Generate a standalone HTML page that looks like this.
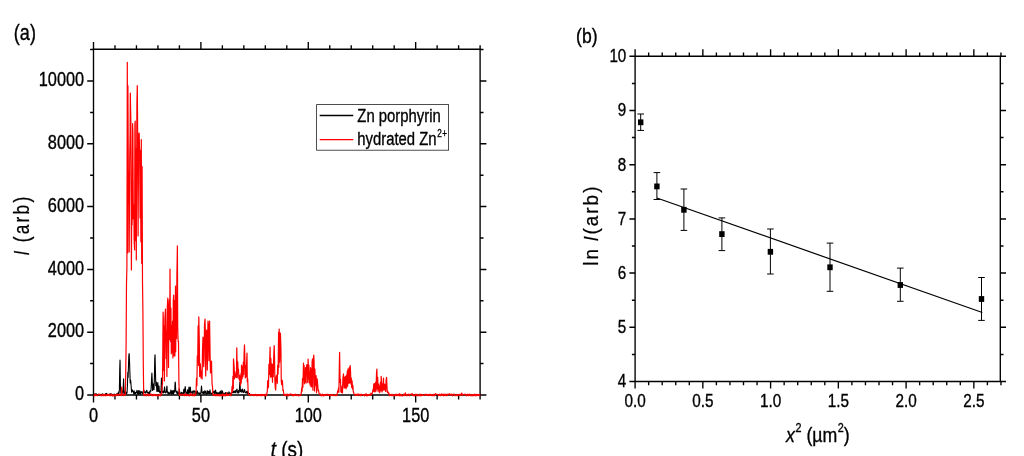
<!DOCTYPE html>
<html lang="en"><head><meta charset="utf-8"><title>Figure</title>
<style>html,body{margin:0;padding:0;background:#fff}svg{display:block}</style></head>
<body>
<svg width="1024" height="456" viewBox="0 0 1024 456" font-family='"Liberation Sans",sans-serif' fill="#000">
<style>text{stroke:#000;stroke-width:0.36px}</style>
<rect width="1024" height="456" fill="#fff"/>
<path d="M92.82,49.2H480.78M92.82,395.0H480.78M93.5,395.00h-6.3M480.1,395.00h6.3M93.5,363.60h-3.4M480.1,363.60h3.4M93.5,332.20h-6.3M480.1,332.20h6.3M93.5,300.80h-3.4M480.1,300.80h3.4M93.5,269.40h-6.3M480.1,269.40h6.3M93.5,238.00h-3.4M480.1,238.00h3.4M93.5,206.60h-6.3M480.1,206.60h6.3M93.5,175.20h-3.4M480.1,175.20h3.4M93.5,143.80h-6.3M480.1,143.80h6.3M93.5,112.40h-3.4M480.1,112.40h3.4M93.5,81.00h-6.3M480.1,81.00h6.3M93.5,49.60h-3.4M480.1,49.60h3.4" fill="none" stroke="#000" stroke-width="1.5"/>
<path d="M93.5,49.2V395.0M480.1,49.2V395.0M93.50,395.0v7.6M93.50,49.2v-7.3M114.98,395.0v4.6M114.98,49.2v-4.0M136.46,395.0v4.6M136.46,49.2v-4.0M157.93,395.0v4.6M157.93,49.2v-4.0M179.41,395.0v4.6M179.41,49.2v-4.0M200.89,395.0v7.6M200.89,49.2v-7.3M222.37,395.0v4.6M222.37,49.2v-4.0M243.84,395.0v4.6M243.84,49.2v-4.0M265.32,395.0v4.6M265.32,49.2v-4.0M286.80,395.0v4.6M286.80,49.2v-4.0M308.28,395.0v7.6M308.28,49.2v-7.3M329.76,395.0v4.6M329.76,49.2v-4.0M351.23,395.0v4.6M351.23,49.2v-4.0M372.71,395.0v4.6M372.71,49.2v-4.0M394.19,395.0v4.6M394.19,49.2v-4.0M415.67,395.0v7.6M415.67,49.2v-7.3M437.14,395.0v4.6M437.14,49.2v-4.0M458.62,395.0v4.6M458.62,49.2v-4.0M480.10,395.0v4.6M480.10,49.2v-4.0" fill="none" stroke="#000" stroke-width="1.36"/>
<polyline fill="none" stroke="#000" stroke-width="1.1" stroke-linejoin="round" points="93.5,394.9 93.8,394.4 94.2,394.1 94.5,394.8 94.9,394.1 95.2,394.5 95.6,393.8 95.9,394.3 96.3,394.0 96.6,393.9 97.0,395.0 97.3,394.7 97.7,394.6 98.0,394.9 98.4,394.7 98.7,394.2 99.1,394.4 99.4,394.7 99.8,394.5 100.1,394.4 100.5,394.6 100.8,394.9 101.2,394.9 101.5,394.4 101.9,395.1 102.2,394.2 102.6,393.9 102.9,394.4 103.3,394.3 103.6,394.7 104.0,394.7 104.3,394.6 104.7,394.6 105.0,394.9 105.4,393.8 105.7,394.9 106.1,394.1 106.4,393.4 106.8,394.0 107.1,394.3 107.5,394.5 107.8,394.8 108.2,394.6 108.5,394.8 108.9,394.4 109.2,394.8 109.6,394.3 109.9,393.9 110.3,394.5 110.6,393.8 111.0,394.6 111.3,394.5 111.7,394.2 112.0,394.6 112.4,394.7 112.7,394.5 113.1,394.3 113.4,394.6 113.8,394.4 114.1,394.5 114.5,394.2 114.8,394.6 115.2,394.5 115.5,394.6 115.9,394.5 116.2,394.5 116.6,394.2 116.9,394.8 117.3,393.2 117.6,393.4 118.0,393.7 118.3,393.7 118.7,391.7 119.0,393.5 119.4,390.0 119.7,370.5 120.0,360.0 120.1,362.0 120.4,383.8 120.8,393.2 121.1,393.1 121.5,390.3 121.6,390.0 121.8,391.5 122.2,392.5 122.5,391.4 122.9,393.6 123.2,387.9 123.6,378.8 123.6,378.8 123.9,387.9 124.3,393.6 124.6,391.6 125.0,392.5 125.3,394.0 125.7,392.4 126.0,393.9 126.4,392.2 126.7,393.5 127.1,392.3 127.4,385.7 127.8,373.0 127.9,372.0 128.1,377.5 128.5,365.7 128.8,355.9 129.1,353.5 129.2,353.9 129.5,360.9 129.9,372.5 130.2,382.9 130.6,380.0 130.6,380.0 130.9,382.9 131.3,388.4 131.6,392.1 132.0,390.7 132.3,389.8 132.7,391.0 133.0,391.9 133.4,391.4 133.7,393.9 134.1,390.7 134.4,392.4 134.8,394.0 135.1,392.6 135.5,393.9 135.8,392.4 136.2,392.9 136.5,392.7 136.9,390.3 137.2,392.1 137.6,393.8 137.9,394.0 138.3,390.5 138.6,394.1 139.0,393.7 139.3,391.7 139.7,390.7 140.0,393.1 140.4,394.3 140.7,392.6 141.1,391.4 141.4,392.9 141.8,392.4 142.1,392.8 142.5,391.9 142.8,393.7 143.2,393.2 143.5,390.2 143.9,390.0 144.2,392.2 144.6,392.4 144.9,392.6 145.3,391.7 145.6,393.1 146.0,392.5 146.3,391.4 146.7,390.2 147.0,391.0 147.4,392.7 147.7,393.0 148.1,393.1 148.4,392.3 148.8,393.8 149.1,392.3 149.5,391.9 149.8,393.4 150.2,390.7 150.5,391.3 150.9,391.2 151.2,387.4 151.6,378.4 151.9,373.0 151.9,373.2 152.3,381.7 152.6,390.5 153.0,389.4 153.3,384.1 153.4,384.0 153.7,387.5 154.0,389.7 154.4,377.8 154.7,360.4 155.0,354.8 155.1,355.7 155.4,370.1 155.8,385.8 156.1,383.2 156.3,382.0 156.5,384.1 156.8,391.2 157.2,391.5 157.5,384.9 157.8,382.5 157.9,383.9 158.2,391.0 158.6,391.4 158.9,386.1 159.0,386.0 159.3,389.9 159.6,392.4 160.0,392.1 160.3,391.9 160.7,393.3 161.0,390.5 161.4,379.2 161.5,378.0 161.7,384.0 162.1,392.3 162.4,391.2 162.8,392.4 163.1,392.9 163.5,391.1 163.8,392.6 164.2,391.1 164.5,387.1 164.6,387.0 164.9,390.4 165.2,392.7 165.6,392.9 165.9,392.7 166.3,391.6 166.6,389.0 166.9,386.0 167.0,386.6 167.3,392.2 167.7,391.7 168.0,393.8 168.4,392.4 168.7,394.1 169.1,393.7 169.4,393.9 169.8,392.3 170.1,393.0 170.5,393.3 170.8,390.1 171.2,393.2 171.5,394.2 171.9,390.8 172.2,393.3 172.6,393.6 172.9,390.6 173.3,390.6 173.6,394.3 174.0,390.7 174.3,392.2 174.7,391.2 175.0,384.1 175.2,382.0 175.4,383.2 175.7,390.4 176.1,392.1 176.4,391.8 176.8,393.2 177.1,391.1 177.5,393.9 177.8,393.4 178.2,392.9 178.5,393.3 178.9,393.9 179.2,388.7 179.6,391.4 179.9,393.9 180.3,393.5 180.6,393.4 181.0,394.2 181.3,392.2 181.7,392.8 182.0,393.7 182.4,393.5 182.7,392.7 183.1,393.5 183.4,393.8 183.8,389.3 184.1,393.5 184.5,392.0 184.8,389.4 185.2,386.6 185.2,386.5 185.5,389.1 185.9,393.0 186.2,392.1 186.6,393.4 186.9,392.2 187.3,393.7 187.6,389.7 188.0,391.9 188.3,393.7 188.7,390.4 189.0,387.0 189.0,387.1 189.4,391.1 189.7,393.3 190.1,388.8 190.3,387.0 190.4,388.1 190.8,392.9 191.1,392.8 191.5,392.7 191.8,392.3 192.2,391.1 192.5,392.2 192.9,394.2 193.2,392.5 193.6,391.0 193.9,390.8 194.3,391.5 194.6,391.0 195.0,394.2 195.3,393.6 195.7,394.0 196.0,391.1 196.4,393.3 196.7,393.6 197.1,393.5 197.4,391.0 197.8,393.3 198.1,392.7 198.5,393.4 198.8,393.4 199.2,393.0 199.5,394.5 199.9,393.0 200.2,393.6 200.6,393.6 200.9,393.2 201.3,388.1 201.5,386.0 201.6,387.2 202.0,392.1 202.3,392.9 202.7,393.0 203.0,393.4 203.4,391.6 203.7,394.0 204.1,393.9 204.4,392.7 204.8,390.7 205.1,392.8 205.5,391.4 205.8,393.6 206.2,394.1 206.5,394.4 206.9,392.7 207.2,390.6 207.6,393.3 207.9,393.6 208.3,391.3 208.6,393.2 209.0,391.5 209.3,393.7 209.7,393.8 210.0,389.7 210.4,393.2 210.7,393.2 211.1,393.6 211.4,393.8 211.8,393.2 212.1,393.0 212.5,393.8 212.8,392.2 213.2,392.4 213.5,392.5 213.9,391.1 214.2,393.2 214.6,391.2 214.9,394.0 215.3,391.8 215.6,390.0 216.0,393.2 216.3,393.1 216.7,393.7 217.0,392.3 217.4,393.5 217.7,393.9 218.1,393.8 218.4,392.7 218.8,393.3 219.1,394.1 219.5,392.7 219.8,391.9 220.2,393.3 220.5,391.1 220.9,393.4 221.2,394.0 221.6,394.1 221.9,390.4 222.3,393.3 222.6,391.6 223.0,393.6 223.3,393.2 223.7,394.0 224.0,394.0 224.4,393.9 224.7,393.9 225.1,393.1 225.4,392.6 225.8,393.0 226.1,394.1 226.5,394.1 226.8,393.0 227.2,392.7 227.5,392.9 227.9,394.1 228.2,394.0 228.6,394.1 228.9,391.8 229.3,392.6 229.6,393.9 230.0,393.6 230.3,393.6 230.7,393.1 231.0,393.0 231.4,394.3 231.7,393.0 232.1,392.2 232.4,392.4 232.8,392.5 233.1,392.8 233.5,392.1 233.8,391.0 234.2,392.7 234.5,391.7 234.9,392.2 235.2,390.7 235.6,391.3 235.9,393.0 236.3,390.1 236.6,390.2 237.0,389.0 237.0,389.0 237.3,391.2 237.7,392.9 238.0,391.8 238.4,393.1 238.7,390.3 239.1,392.5 239.4,390.4 239.8,382.7 239.9,382.0 240.1,385.7 240.5,391.6 240.8,390.7 241.2,389.9 241.5,390.4 241.9,392.5 242.2,389.9 242.5,389.0 242.6,389.2 242.9,391.5 243.3,391.8 243.6,392.6 244.0,391.6 244.3,389.8 244.5,389.5 244.7,390.1 245.0,392.1 245.4,392.5 245.7,392.9 246.1,392.5 246.4,391.6 246.8,393.0 247.1,391.1 247.5,392.0 247.8,393.9 248.2,394.1 248.5,393.4 248.9,393.6 249.2,394.0 249.6,393.6 249.9,393.9"/>
<polyline fill="none" stroke="#f00" stroke-width="1.2" stroke-linejoin="round" points="93.7,395.8 94.1,395.8 94.5,394.4 94.9,395.7 95.3,394.2 95.7,395.4 96.1,395.6 96.5,394.7 96.9,395.3 97.3,395.7 97.7,395.5 98.1,394.6 98.5,394.5 98.9,394.2 99.3,394.4 99.7,394.2 100.1,394.3 100.5,395.6 100.9,395.4 101.3,395.8 101.7,395.4 102.1,394.7 102.5,394.3 102.9,395.6 103.3,395.7 103.7,394.5 104.1,395.6 104.5,394.4 104.9,394.5 105.3,395.8 105.7,395.4 106.1,395.5 106.5,394.7 106.9,395.7 107.3,394.3 107.7,394.7 108.1,394.6 108.5,395.5 108.9,394.3 109.3,394.7 109.7,395.4 110.1,395.8 110.5,395.6 110.9,394.4 111.3,394.0 111.7,394.3 112.1,395.8 112.5,395.4 112.9,395.8 113.3,394.6 113.7,395.7 114.1,395.8 114.5,395.5 114.9,394.6 115.3,394.5 115.7,395.7 116.1,395.7 116.5,394.6 116.9,395.5 117.3,394.6 117.7,394.0 118.1,394.4 118.5,395.6 118.9,394.5 119.3,394.6 119.7,394.3 120.1,394.3 120.5,395.5 120.9,394.7 121.3,395.6 121.7,387.0 122.1,394.1 122.5,394.7 122.9,394.4 123.3,394.6 123.7,395.7 124.1,395.3 124.5,394.5 124.9,395.3 125.3,394.6 125.7,374.9 126.1,344.8 126.5,283.3 126.9,267.3 127.3,62.3 127.7,253.0 127.9,85.6 128.5,203.1 128.9,172.1 129.2,252.0 129.7,158.9 130.1,131.9 130.3,93.1 130.9,125.1 131.4,270.0 131.7,213.4 132.1,224.7 132.6,123.5 132.9,133.5 133.3,218.8 133.9,205.0 134.1,238.9 134.6,250.0 134.9,124.3 135.2,121.0 135.7,240.6 136.1,149.1 136.3,260.0 136.9,103.7 137.3,85.6 137.7,138.8 138.1,236.0 138.5,161.3 138.9,133.8 139.2,133.0 139.7,158.4 140.1,218.0 140.5,150.4 140.9,241.8 141.3,139.5 141.7,263.5 142.1,166.7 142.5,282.3 142.9,310.8 143.3,364.7 143.7,394.9 144.1,395.6 144.5,395.7 144.9,394.3 145.3,394.8 145.7,394.7 146.1,395.7 146.5,395.6 146.9,395.6 147.3,394.2 147.7,394.6 148.1,394.4 148.5,394.4 148.9,395.8 149.3,394.5 149.7,395.4 150.1,394.5 150.5,394.2 150.9,394.5 151.3,394.2 151.7,395.4 152.1,395.6 152.5,395.7 152.9,394.6 153.3,394.3 153.7,395.6 154.1,394.5 154.5,394.6 154.9,394.5 155.3,395.7 155.7,394.6 156.1,395.4 156.5,394.7 156.9,395.7 157.3,395.6 157.7,395.3 158.1,395.7 158.5,395.8 158.9,394.3 159.3,395.5 159.7,394.2 160.1,395.7 160.5,395.8 160.9,394.4 161.3,394.2 161.7,394.5 162.1,385.4 162.5,384.5 163.1,312.0 163.3,318.6 163.7,370.5 164.1,326.1 164.4,381.0 164.9,318.3 165.5,309.0 165.7,319.7 166.1,358.4 166.5,331.3 166.9,376.5 167.3,307.3 167.8,298.0 168.1,310.3 168.5,367.4 168.9,314.7 169.3,299.9 169.7,339.3 170.0,269.0 170.5,341.6 170.9,308.1 171.3,353.8 171.7,325.8 172.1,352.5 172.5,321.3 172.9,358.0 173.3,300.5 173.7,295.0 174.1,355.8 174.5,300.6 174.9,355.9 175.5,286.0 175.7,351.7 176.1,294.1 176.5,338.4 176.9,274.7 177.4,245.8 177.7,327.0 178.1,341.2 178.5,341.2 178.9,381.8 179.3,395.0 179.7,395.6 180.1,394.6 180.5,394.6 180.9,394.4 181.3,394.3 181.7,395.4 182.1,394.3 182.5,394.4 182.9,394.2 183.3,394.4 183.7,395.4 184.1,394.6 184.5,395.7 184.9,395.5 185.3,394.6 185.7,393.6 186.1,395.7 186.5,395.6 186.9,394.6 187.3,394.5 187.7,395.5 188.1,394.5 188.5,395.6 188.9,395.5 189.3,395.6 189.7,395.8 190.1,394.5 190.5,395.4 190.9,393.2 191.3,394.9 191.7,394.7 192.1,395.6 192.5,395.6 192.9,394.6 193.3,395.6 193.7,394.2 194.1,394.2 194.5,395.8 194.9,395.6 195.3,395.0 195.7,394.4 196.1,391.2 196.5,378.2 196.9,385.7 197.3,355.8 197.7,361.6 198.1,326.0 198.5,365.5 198.8,316.8 199.3,340.2 199.7,376.4 200.1,363.3 200.5,365.5 201.0,378.0 201.3,371.1 201.7,376.9 202.1,378.9 202.5,350.3 203.0,337.0 203.3,339.0 203.7,366.7 204.1,358.5 204.5,324.5 205.0,319.0 205.3,330.6 205.7,375.9 206.1,345.2 206.6,330.0 206.9,341.8 207.3,370.1 207.7,338.3 208.0,321.0 208.5,334.7 208.9,360.7 209.3,324.5 209.6,321.0 210.1,355.0 210.5,372.9 210.9,364.8 211.5,361.0 211.7,370.8 212.1,384.3 212.5,386.7 212.9,395.0 213.3,394.8 213.7,395.4 214.1,394.5 214.5,394.5 214.9,395.5 215.3,395.7 215.7,394.5 216.1,395.6 216.5,394.9 216.9,394.4 217.3,394.6 217.7,395.8 218.1,395.6 218.5,394.6 218.9,395.5 219.3,395.7 219.7,394.7 220.1,395.8 220.5,395.7 220.9,394.5 221.3,394.6 221.7,395.6 222.1,395.5 222.5,394.0 222.9,394.1 223.3,395.8 223.7,394.2 224.1,394.3 224.5,395.6 224.9,395.4 225.3,395.8 225.7,394.6 226.1,395.3 226.5,393.1 226.9,395.3 227.3,394.2 227.7,395.6 228.1,394.4 228.5,395.4 228.9,394.5 229.3,394.4 229.7,394.6 230.1,394.2 230.5,394.3 230.9,395.8 231.3,393.7 231.7,391.9 232.1,386.4 232.5,391.9 232.9,376.3 233.3,388.8 233.5,358.8 234.1,366.2 234.5,379.0 234.9,371.8 235.3,376.9 235.7,376.7 236.1,377.5 236.5,372.1 236.8,347.8 237.3,377.6 237.7,361.9 238.1,370.0 238.5,369.3 238.9,378.9 239.3,375.0 239.7,380.8 240.0,376.0 240.5,385.3 240.9,373.7 241.3,382.9 241.5,365.0 242.1,378.8 242.5,366.6 242.9,376.7 243.3,362.3 243.7,374.6 244.1,353.2 244.5,344.8 244.9,358.4 245.3,377.9 245.7,365.9 246.1,376.8 246.5,365.5 247.0,353.0 247.3,382.0 247.7,378.7 248.1,390.7 248.5,394.4 248.9,394.6 249.3,394.5 249.7,394.6 250.1,395.7 250.5,394.5 250.9,394.4 251.3,394.7 251.7,394.4 252.1,395.4 252.5,394.7 252.9,394.6 253.3,395.6 253.7,394.5 254.1,394.7 254.5,395.6 254.9,394.6 255.3,394.4 255.7,394.6 256.1,395.4 256.5,395.7 256.9,394.5 257.3,395.5 257.7,395.7 258.1,395.7 258.5,394.5 258.9,395.4 259.3,394.5 259.7,394.5 260.1,394.6 260.5,395.7 260.9,394.3 261.3,394.7 261.7,395.8 262.1,394.4 262.5,394.5 262.9,395.4 263.3,394.6 263.7,395.3 264.1,394.5 264.5,395.8 264.9,395.4 265.3,395.8 265.7,394.3 266.1,395.6 266.5,395.6 266.9,393.1 267.3,391.6 267.7,380.7 268.1,388.0 268.5,386.4 268.9,364.3 269.3,374.5 269.7,359.7 270.1,347.0 270.5,377.1 270.9,358.4 271.3,376.8 271.7,363.9 272.1,369.4 272.5,382.3 272.9,364.0 273.3,376.7 273.7,357.0 274.2,345.6 274.5,356.1 274.9,380.7 275.3,388.3 275.7,390.0 276.1,377.3 276.4,376.0 276.9,375.1 277.3,383.3 277.7,365.1 278.1,373.9 278.6,332.0 278.9,367.2 279.2,329.0 279.7,362.1 280.1,338.7 280.4,333.0 280.9,347.5 281.3,381.7 281.7,384.6 282.1,380.2 282.5,381.4 282.9,390.4 283.3,389.9 283.7,393.3 284.1,395.6 284.5,395.5 284.9,395.1 285.3,394.6 285.7,395.7 286.1,394.2 286.5,395.5 286.9,395.7 287.3,394.6 287.7,394.2 288.1,394.3 288.5,395.8 288.9,395.6 289.3,394.4 289.7,394.7 290.1,394.5 290.5,393.9 290.9,394.2 291.3,394.4 291.7,394.6 292.1,395.8 292.5,394.4 292.9,394.6 293.3,394.7 293.7,395.8 294.1,394.3 294.5,395.4 294.9,395.4 295.3,394.2 295.7,394.5 296.1,395.3 296.5,395.6 296.9,395.3 297.3,394.7 297.7,394.5 298.1,395.5 298.5,395.8 298.9,395.7 299.3,395.5 299.7,395.3 300.1,394.6 300.5,394.7 300.9,395.6 301.3,392.7 301.7,387.8 302.1,391.2 302.5,378.7 302.9,387.3 303.5,363.0 303.7,380.1 304.1,365.4 304.5,383.8 304.9,371.6 305.3,382.2 305.5,367.5 306.1,383.1 306.5,367.1 306.9,364.6 307.3,366.0 307.7,382.6 308.1,359.0 308.5,379.0 308.9,365.2 309.3,383.0 309.7,372.0 310.1,385.0 310.5,367.5 310.9,386.6 311.3,369.2 311.7,386.8 312.1,362.4 312.5,358.8 312.9,390.2 313.3,360.8 313.8,355.0 314.1,362.2 314.5,390.9 314.9,369.1 315.3,385.6 315.7,379.3 316.1,375.5 316.5,392.8 316.9,381.1 317.2,378.8 317.7,385.0 318.1,390.8 318.5,389.8 318.9,393.0 319.3,393.9 319.7,394.5 320.1,393.8 320.5,394.4 320.9,395.7 321.3,395.7 321.7,394.6 322.1,395.8 322.5,394.2 322.9,394.3 323.3,395.7 323.7,395.8 324.1,394.5 324.5,395.5 324.9,395.6 325.3,394.5 325.7,394.4 326.1,395.4 326.5,394.4 326.9,394.6 327.3,394.6 327.7,394.3 328.1,395.4 328.5,395.4 328.9,395.4 329.3,394.5 329.7,395.7 330.1,394.4 330.5,395.8 330.9,395.3 331.3,394.7 331.7,394.6 332.1,394.6 332.5,395.5 332.9,394.7 333.3,395.3 333.7,395.4 334.1,395.6 334.5,395.3 334.9,395.6 335.3,395.7 335.7,394.7 336.1,394.5 336.5,394.6 336.9,395.7 337.3,393.0 337.7,390.9 338.1,392.1 338.5,387.8 338.9,392.2 339.3,368.2 339.6,352.3 340.1,382.4 340.5,379.3 340.9,392.0 341.3,390.5 341.7,392.6 342.1,386.2 342.5,392.8 342.9,378.2 343.5,373.8 343.7,379.0 344.1,388.0 344.5,377.6 344.9,387.8 345.3,376.3 345.7,385.2 346.1,388.8 346.5,375.2 346.9,387.2 347.3,371.1 347.7,386.0 348.0,368.8 348.5,381.5 348.9,383.5 349.3,367.4 349.7,382.6 350.2,365.6 350.5,370.8 350.9,384.1 351.3,378.1 351.7,387.4 352.1,380.8 352.5,388.9 352.9,385.3 353.3,392.0 353.7,392.6 354.1,394.2 354.5,394.6 354.9,394.6 355.3,395.4 355.7,394.3 356.1,394.2 356.5,395.4 356.9,394.4 357.3,394.4 357.7,394.2 358.1,395.7 358.5,394.0 358.9,394.4 359.3,394.5 359.7,394.4 360.1,395.4 360.5,395.7 360.9,394.2 361.3,395.6 361.7,394.8 362.1,394.5 362.5,394.7 362.9,394.6 363.3,395.3 363.7,394.9 364.1,395.4 364.5,395.8 364.9,394.4 365.3,395.1 365.7,394.4 366.1,393.7 366.5,395.8 366.9,395.5 367.3,394.5 367.7,395.8 368.1,394.6 368.5,395.5 368.9,395.5 369.3,394.7 369.7,394.4 370.1,394.6 370.5,395.5 370.9,393.2 371.3,394.2 371.7,394.5 372.1,393.4 372.5,392.6 372.9,389.6 373.3,391.4 373.8,383.8 374.1,391.2 374.5,383.7 374.9,391.9 375.3,391.3 375.7,382.0 376.1,391.0 376.5,373.1 376.9,369.0 377.3,389.0 377.7,377.4 378.1,391.6 378.5,384.0 378.9,390.0 379.3,386.8 379.7,392.7 380.1,385.3 380.5,382.4 380.9,390.8 381.2,376.3 381.7,383.6 382.1,392.0 382.5,384.0 382.9,390.1 383.5,378.0 383.7,390.0 384.1,390.0 384.5,384.1 384.9,384.5 385.3,389.7 385.7,391.5 386.1,379.9 386.6,377.3 386.9,385.2 387.3,392.3 387.7,391.2 388.1,392.8 388.5,393.6 388.9,393.0 389.3,395.7 389.7,395.4 390.1,394.7 390.5,395.3 390.9,394.8 391.3,394.5 391.7,395.6 392.1,394.3 392.5,395.4 392.9,395.7 393.3,395.7 393.7,395.6 394.1,394.5 394.5,395.4 394.9,395.7 395.3,394.4 395.7,394.4 396.1,395.7 396.5,394.4 396.9,394.5 397.3,394.4 397.7,395.6 398.1,394.6 398.5,394.3 398.9,395.3 399.3,395.8 399.7,393.6 400.1,394.6 400.5,395.7 400.9,395.4 401.3,394.4 401.7,395.8 402.1,395.5 402.5,395.8 402.9,395.7 403.3,395.4 403.7,394.2 404.1,394.3 404.5,394.5 404.9,395.7 405.3,392.9 405.7,394.4 406.1,394.4 406.5,395.5 406.9,395.8 407.3,394.4 407.7,394.7 408.1,394.4 408.5,394.7 408.9,394.2 409.3,395.8 409.7,394.6 410.1,394.4 410.5,394.4 410.9,394.5 411.3,394.3 411.7,394.7 412.1,393.5 412.5,395.4 412.9,394.3 413.3,395.7 413.7,395.5 414.1,395.5 414.5,395.8 414.9,394.6 415.3,395.7 415.7,394.2 416.1,394.2 416.5,394.5 416.9,395.6 417.3,394.4 417.7,395.6 418.1,395.4 418.5,395.5 418.9,395.6 419.3,395.3 419.7,394.2 420.1,395.8 420.5,395.6 420.9,394.2 421.3,395.6 421.7,395.4 422.1,395.4 422.5,394.5 422.9,395.4 423.3,395.5 423.7,395.5 424.1,395.5 424.5,394.5 424.9,394.3 425.3,394.5 425.7,394.4 426.1,395.4 426.5,394.4 426.9,394.5 427.3,395.4 427.7,395.4 428.1,394.6 428.5,395.6 428.9,394.3 429.3,394.3 429.7,395.5 430.1,395.5 430.5,394.2 430.9,395.3 431.3,394.7 431.7,395.6 432.1,394.6 432.5,395.7 432.9,395.4 433.3,395.6 433.7,394.3 434.1,395.6 434.5,395.6 434.9,395.4 435.3,393.5 435.7,394.4 436.1,394.3 436.5,394.4 436.9,394.2 437.3,394.5 437.7,394.6 438.1,395.3 438.5,395.6 438.9,395.7 439.3,394.2 439.7,395.5 440.1,394.4 440.5,395.7 440.9,394.5 441.3,394.4 441.7,393.8 442.1,395.3 442.5,395.5 442.9,395.5 443.3,394.2 443.7,395.8 444.1,394.2 444.5,395.4 444.9,394.4 445.3,395.7 445.7,394.6 446.1,394.4 446.5,394.3 446.9,395.4 447.3,395.7 447.7,394.2 448.1,394.2 448.5,394.2 448.9,394.5 449.3,394.6 449.7,393.7 450.1,395.4 450.5,394.6 450.9,394.5 451.3,394.7 451.7,394.2 452.1,394.5 452.5,395.8 452.9,394.4 453.3,394.6 453.7,394.4 454.1,394.2 454.5,394.3 454.9,395.5 455.3,395.7 455.7,395.7 456.1,395.4 456.5,394.4 456.9,394.7 457.3,395.7 457.7,395.3 458.1,394.5 458.5,394.5 458.9,395.5 459.3,394.2 459.7,395.4 460.1,395.6 460.5,394.4 460.9,394.5 461.3,394.2 461.7,393.0 462.1,395.7 462.5,394.3 462.9,394.6 463.3,394.5 463.7,394.5 464.1,394.3 464.5,394.4 464.9,394.2 465.3,394.9 465.7,394.3 466.1,395.6 466.5,395.8 466.9,395.3 467.3,394.3 467.7,394.3 468.1,394.6 468.5,395.7 468.9,394.3 469.3,395.6 469.7,394.3 470.1,394.2 470.5,395.7 470.9,395.6 471.3,395.7 471.7,394.6 472.1,395.8 472.5,394.5 472.9,395.7 473.3,394.7 473.7,395.7 474.1,394.6 474.5,394.2 474.9,394.5 475.3,395.8 475.7,394.6 476.1,395.7 476.5,394.9 476.9,394.2 477.3,395.5 477.7,395.4 478.1,394.5 478.5,394.5 478.9,395.4 479.3,395.7 479.7,394.6 480.1,395.8"/>
<text transform="translate(84.20,400.15) scale(0.775,1)" text-anchor="end" font-size="21.1">0</text>
<text transform="translate(84.20,337.35) scale(0.775,1)" text-anchor="end" font-size="21.1">2000</text>
<text transform="translate(84.20,274.55) scale(0.775,1)" text-anchor="end" font-size="21.1">4000</text>
<text transform="translate(84.20,211.75) scale(0.775,1)" text-anchor="end" font-size="21.1">6000</text>
<text transform="translate(84.20,148.95) scale(0.775,1)" text-anchor="end" font-size="21.1">8000</text>
<text transform="translate(84.20,86.15) scale(0.775,1)" text-anchor="end" font-size="21.1">10000</text>
<text transform="translate(93.50,421.50) scale(0.775,1)" text-anchor="middle" font-size="21.1">0</text>
<text transform="translate(200.89,421.50) scale(0.775,1)" text-anchor="middle" font-size="21.1">50</text>
<text transform="translate(308.28,421.50) scale(0.775,1)" text-anchor="middle" font-size="21.1">100</text>
<text transform="translate(415.67,421.50) scale(0.775,1)" text-anchor="middle" font-size="21.1">150</text>
<text transform="translate(13.85,40.10) scale(0.827,1)" text-anchor="start" font-size="21.85">(a)</text>
<text transform="translate(28.65,225.00) rotate(-90) scale(0.8,1)" text-anchor="middle" font-size="21.5" letter-spacing="2.9" word-spacing="-1.3" style="stroke-width:0.25px"><tspan font-style="italic">I</tspan> (arb)</text>
<text transform="translate(287.00,456.80) scale(0.855,1)" text-anchor="middle" font-size="22"><tspan font-style="italic">t</tspan> (s)</text>
<rect x="316.6" y="104.6" width="132" height="45.6" fill="#fff" stroke="#222" stroke-width="0.8"/>
<path d="M319.7,115.4H353.3" stroke="#000" stroke-width="1.45"/>
<path d="M319.7,139.6H353.3" stroke="#f00" stroke-width="1.45"/>
<text transform="translate(357.30,121.80) scale(0.783,1)" text-anchor="start" font-size="19.0">Zn porphyrin</text>
<text transform="translate(357.30,145.40) scale(0.783,1)" text-anchor="start" font-size="19.0">hydrated Zn<tspan font-size="10.4" dy="-8.4" dx="0.8" letter-spacing="0.6">2+</tspan></text>
<path d="M634.42,56.3H1000.98M634.42,381.5H1000.98M635.1,381.50h-5.7M1000.3,381.50h5.7M635.1,354.40h-3.2M1000.3,354.40h3.2M635.1,327.30h-5.7M1000.3,327.30h5.7M635.1,300.20h-3.2M1000.3,300.20h3.2M635.1,273.10h-5.7M1000.3,273.10h5.7M635.1,246.00h-3.2M1000.3,246.00h3.2M635.1,218.90h-5.7M1000.3,218.90h5.7M635.1,191.80h-3.2M1000.3,191.80h3.2M635.1,164.70h-5.7M1000.3,164.70h5.7M635.1,137.60h-3.2M1000.3,137.60h3.2M635.1,110.50h-5.7M1000.3,110.50h5.7M635.1,83.40h-3.2M1000.3,83.40h3.2M635.1,56.30h-5.7M1000.3,56.30h5.7" fill="none" stroke="#000" stroke-width="1.5"/>
<path d="M635.1,56.3V381.5M1000.3,56.3V381.5M635.10,381.5v7.0M635.10,56.3v-7.0M648.65,381.5v3.8M648.65,56.3v-3.8M662.20,381.5v3.8M662.20,56.3v-3.8M675.75,381.5v3.8M675.75,56.3v-3.8M689.30,381.5v3.8M689.30,56.3v-3.8M702.85,381.5v7.0M702.85,56.3v-7.0M716.40,381.5v3.8M716.40,56.3v-3.8M729.95,381.5v3.8M729.95,56.3v-3.8M743.50,381.5v3.8M743.50,56.3v-3.8M757.05,381.5v3.8M757.05,56.3v-3.8M770.60,381.5v7.0M770.60,56.3v-7.0M784.15,381.5v3.8M784.15,56.3v-3.8M797.70,381.5v3.8M797.70,56.3v-3.8M811.25,381.5v3.8M811.25,56.3v-3.8M824.80,381.5v3.8M824.80,56.3v-3.8M838.35,381.5v7.0M838.35,56.3v-7.0M851.90,381.5v3.8M851.90,56.3v-3.8M865.45,381.5v3.8M865.45,56.3v-3.8M879.00,381.5v3.8M879.00,56.3v-3.8M892.55,381.5v3.8M892.55,56.3v-3.8M906.10,381.5v7.0M906.10,56.3v-7.0M919.65,381.5v3.8M919.65,56.3v-3.8M933.20,381.5v3.8M933.20,56.3v-3.8M946.75,381.5v3.8M946.75,56.3v-3.8M960.30,381.5v3.8M960.30,56.3v-3.8M973.85,381.5v7.0M973.85,56.3v-7.0M987.40,381.5v3.8M987.40,56.3v-3.8M1000.95,381.5v3.8M1000.95,56.3v-3.8" fill="none" stroke="#000" stroke-width="1.36"/>
<text transform="translate(626.30,387.30) scale(0.8,1)" text-anchor="end" font-size="19.0">4</text>
<text transform="translate(626.30,333.10) scale(0.8,1)" text-anchor="end" font-size="19.0">5</text>
<text transform="translate(626.30,278.90) scale(0.8,1)" text-anchor="end" font-size="19.0">6</text>
<text transform="translate(626.30,224.70) scale(0.8,1)" text-anchor="end" font-size="19.0">7</text>
<text transform="translate(626.30,170.50) scale(0.8,1)" text-anchor="end" font-size="19.0">8</text>
<text transform="translate(626.30,116.30) scale(0.8,1)" text-anchor="end" font-size="19.0">9</text>
<text transform="translate(626.30,62.10) scale(0.8,1)" text-anchor="end" font-size="19.0">10</text>
<text transform="translate(635.10,407.20) scale(0.8,1)" text-anchor="middle" font-size="19.1">0.0</text>
<text transform="translate(702.85,407.20) scale(0.8,1)" text-anchor="middle" font-size="19.1">0.5</text>
<text transform="translate(770.60,407.20) scale(0.8,1)" text-anchor="middle" font-size="19.1">1.0</text>
<text transform="translate(838.35,407.20) scale(0.8,1)" text-anchor="middle" font-size="19.1">1.5</text>
<text transform="translate(906.10,407.20) scale(0.8,1)" text-anchor="middle" font-size="19.1">2.0</text>
<text transform="translate(973.85,407.20) scale(0.8,1)" text-anchor="middle" font-size="19.1">2.5</text>
<text transform="translate(576.10,43.10) scale(0.853,1)" text-anchor="start" font-size="20.6">(b)</text>
<text transform="translate(598.25,225.20) rotate(-90) scale(0.92,1)" text-anchor="middle" font-size="20.5" letter-spacing="2.2" word-spacing="-5" style="stroke-width:0.25px">ln <tspan font-style="italic" dx="3.3">I</tspan><tspan dx="-3.3"> (arb)</tspan></text>
<text transform="translate(817.90,442.30) scale(0.845,1)" text-anchor="middle" font-size="21"><tspan font-style="italic">x</tspan><tspan font-size="12.8" dy="-9.9" dx="0.6">2</tspan><tspan dy="9.9"> (µm</tspan><tspan font-size="12.8" dy="-9.9" dx="0.6">2</tspan><tspan dy="9.9">)</tspan></text>
<path d="M640.7,114.0V130.4M637.4000000000001,114.0h6.6M637.4000000000001,130.4h6.6M656.9,172.6V199.5M653.6,172.6h6.6M653.6,199.5h6.6M683.9,189.0V230.4M680.6,189.0h6.6M680.6,230.4h6.6M721.9,217.9V250.6M718.6,217.9h6.6M718.6,250.6h6.6M770.4,229.0V274.0M767.1,229.0h6.6M767.1,274.0h6.6M830.0,243.1V291.3M826.7,243.1h6.6M826.7,291.3h6.6M900.3,268.1V301.3M897.0,268.1h6.6M897.0,301.3h6.6M981.5,277.5V320.4M978.2,277.5h6.6M978.2,320.4h6.6" fill="none" stroke="#000" stroke-width="1.0"/>
<rect x="638.0" y="119.4" width="5.4" height="5.8"/>
<rect x="654.2" y="183.5" width="5.4" height="5.8"/>
<rect x="681.2" y="206.9" width="5.4" height="5.8"/>
<rect x="719.2" y="231.2" width="5.4" height="5.8"/>
<rect x="767.7" y="248.9" width="5.4" height="5.8"/>
<rect x="827.3" y="264.4" width="5.4" height="5.8"/>
<rect x="897.6" y="282.1" width="5.4" height="5.8"/>
<rect x="978.8" y="296.1" width="5.4" height="5.8"/>
<path d="M656.9,198L982.3,312.5" stroke="#000" stroke-width="1.2" fill="none"/>
</svg>
</body></html>
